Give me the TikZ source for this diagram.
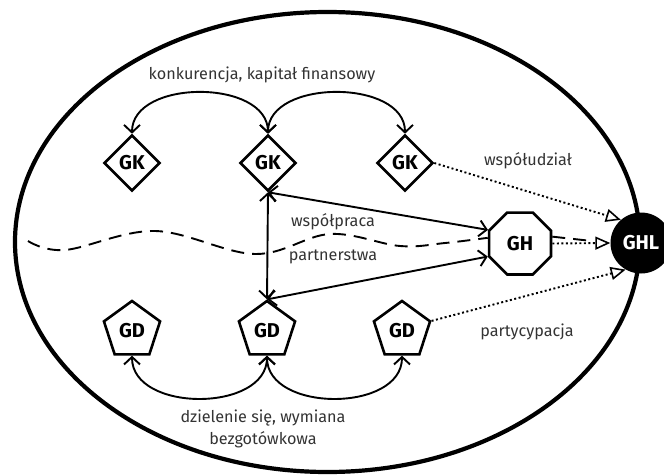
\documentclass[tikz,border=0pt]{standalone}
\usepackage{fontspec}
\setmainfont{Fira Sans}
\usetikzlibrary{shapes.geometric,arrows.meta}
\definecolor{txt}{HTML}{333333}
\begin{document}
\begin{tikzpicture}[x=1pt,y=-1pt,
  lbl/.style={font=\fontsize{16.2}{22}\selectfont, text=txt, align=center},
  nlbl/.style={font=\fontsize{20}{20}\selectfont\bfseries},
  gk/.style={diamond, draw, line width=2.6pt, minimum width=56pt, minimum height=56pt, inner sep=0pt, nlbl},
  gd/.style={regular polygon, regular polygon sides=5, draw, line width=2.6pt, minimum size=59pt, inner sep=0pt, nlbl},
  gh/.style={regular polygon, regular polygon sides=8, draw, line width=2.6pt, minimum size=67pt, inner sep=0pt, nlbl},
  ghl/.style={circle, fill=black, minimum size=61pt, inner sep=0pt, nlbl, text=white},
  bi/.style={line width=1.9pt, {Straight Barb[length=7.5pt,width=16pt]}-{Straight Barb[length=7.5pt,width=16pt]}},
  dotarr/.style={line width=1.9pt, dash pattern=on 2pt off 2.5pt, -{Triangle[length=15pt,width=13pt,fill=white,line width=1.6pt]}},
  wave/.style={line width=1.9pt, dash pattern=on 13pt off 8pt}
]
\useasboundingbox (0,0) rectangle (664,474);
\clip (0,0) rectangle (664,474);
% outer ellipse
\draw[line width=4.2pt] (327.5,242) ellipse [x radius=312.5, y radius=230];

% nodes
\node[gk] (gk1) at (132,163) {GK};
\node[gk] (gk2) at (268,163) {GK};
\node[gk] (gk3) at (405,163) {GK};
\node[gd] (gd1) at (132,330.5) {GD};
\node[gd] (gd2) at (267,330.5) {GD};
\node[gd] (gd3) at (402,330.5) {GD};
\node[gh] (gh) at (520,243.5) {GH};
\node[ghl] (ghl) at (641,243) {GHL};

% labels
\node[lbl] (l1) at (262,75) {konkurencja, kapitał finansowy};
\node[lbl] (l2) at (528,161) {współudział};
\node[lbl] (l3) at (527,332) {partycypacja};
\node[lbl] (l4) at (333,222) {współpraca};
\node[lbl] (l5) at (333,257) {partnerstwa};
\node[lbl] (l6) at (263,429) {dzielenie się, wymiana\\bezgotówkowa};

% dashed wave
\coordinate (w0) at (28,241);
\coordinate (w9) at (592,241);
\draw[wave] plot[smooth, tension=0.6] coordinates {(w0) (65,250) (155,231) (255,254) (330,234) (400,246) (445,243) (gh.170)};
\draw[wave] (gh.12) -- (w9);

% arcs
\draw[bi] (gk2.north) .. controls +(0,-55) and +(0,-55) .. (gk1.north);
\draw[bi] (gk2.north) .. controls +(0,-55) and +(0,-55) .. (gk3.north);
\draw[bi] (gd2.south) .. controls +(0,57) and +(0,57) .. (gd1.south);
\draw[bi] (gd2.south) .. controls +(0,57) and +(0,57) .. (gd3.south);

% central connectors
\draw[bi] (gk2.south) -- (gd2.north);
\draw[bi] (gk2.south) -- (gh.157.5);
\draw[bi] (gd2.north) -- (gh.202.5);

% dotted to GHL
\draw[dotarr] (gk3.east) -- (ghl.131);
\draw[dotarr] (gh.east) -- (ghl.west);
\draw[dotarr] (gd3.corner 5) -- (ghl.240);
\end{tikzpicture}
\end{document}
